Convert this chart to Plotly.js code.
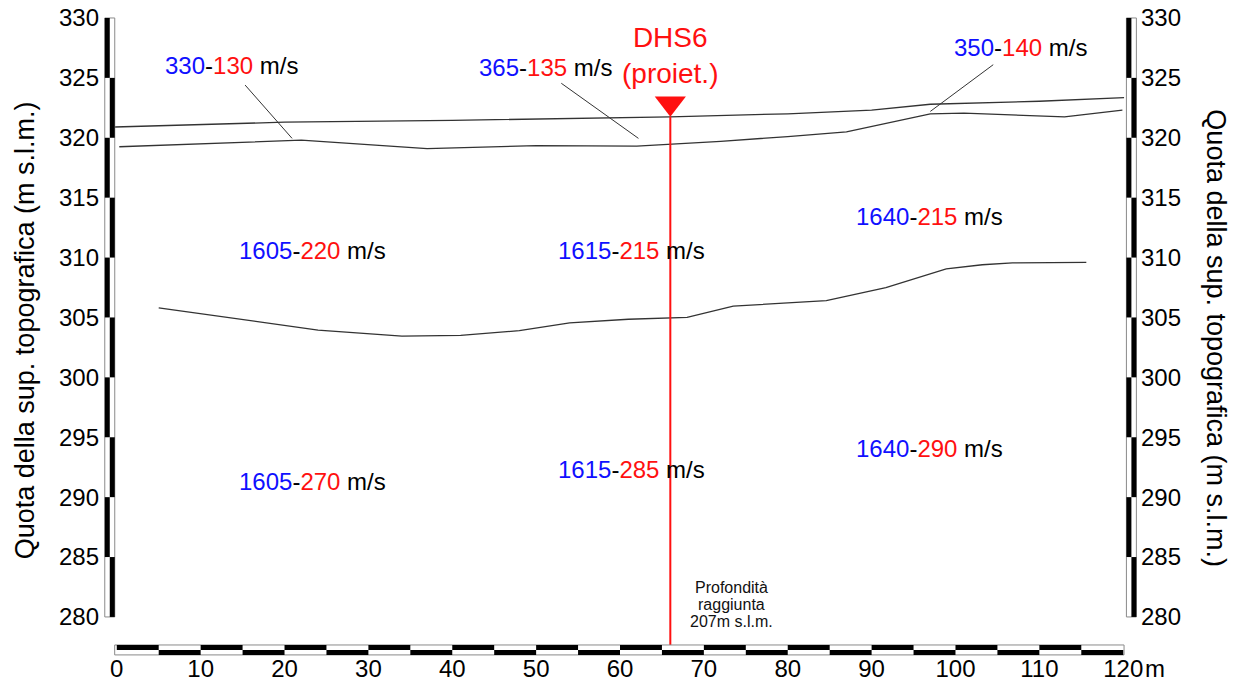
<!DOCTYPE html>
<html><head><meta charset="utf-8">
<script src="https://cdn.plot.ly/plotly-3.0.1.min.js"></script>
<style>html,body{margin:0;padding:0;background:#fff}#chart{width:1245px;height:686px}</style>
</head><body><div id="chart"></div>
<script>
// ---- data (distance in m, elevation in m s.l.m.) ----
const topoX = [-0.25, 20, 40, 60, 66, 80, 90, 97, 110, 120.1];
const topoY = [320.9, 321.3, 321.45, 321.65, 321.75, 322.0, 322.3, 322.8, 323.05, 323.35];
const layer1X = [0.3, 10, 22, 37, 50, 62, 72, 80, 87, 97, 101, 113, 119.9];
const layer1Y = [319.25, 319.5, 319.8, 319.1, 319.35, 319.3, 319.7, 320.1, 320.5, 322.0, 322.05, 321.75, 322.3];
const layer2X = [5, 15, 24, 34, 41, 48, 54, 61, 68, 73.5, 84.6, 91.7, 98.9, 103.2, 106.8, 115.6];
const layer2Y = [305.8, 304.8, 303.95, 303.45, 303.5, 303.9, 304.55, 304.85, 305.0, 305.95, 306.4, 307.5, 309.05, 309.4, 309.55, 309.6];
const leader1X = [15.3, 20.9], leader1Y = [324.4, 319.95];
const leader2X = [53.0, 62.2], leader2Y = [324.55, 319.95];
const leader3X = [104.5, 97.0], leader3Y = [326.1, 322.2];
const vpVals = [330, 365, 350, 1605, 1615, 1640, 1605, 1615, 1640];
const vsVals = [130, 135, 140, 220, 215, 215, 270, 285, 290];
const labelX = [13.7, 51.07, 107.7, 23.36, 61.38, 96.9, 23.36, 61.38, 96.9];
const labelY = [326.0, 325.83, 327.5, 310.63, 310.55, 313.4, 291.27, 292.27, 294.1];
const boreName = 'DHS6', boreNote = '(proiet.)';
const boreX = 66, boreTop = 321.75, boreBottom = 276.83;
const depthNoteLines = ['Profondità', 'raggiunta', '207m s.l.m.'];
const depthNoteX = 73.3, depthNoteY = [282.42, 281.0, 279.58];
const xTicks = [0, 10, 20, 30, 40, 50, 60, 70, 80, 90, 100, 110, 120];
const xUnit = 'm';
const yTicks = [280, 285, 290, 295, 300, 305, 310, 315, 320, 325, 330];
const yTitle = 'Quota della sup. topografica (m s.l.m.)';

const FONT = 'Liberation Sans, Arial, sans-serif';
const BLUE = '#1010ff', RED = '#ff1010';
const lineStyle = {color: '#333', width: 1.3};

const traces = [
  {x: topoX, y: topoY, mode: 'lines', line: lineStyle, hoverinfo: 'skip'},
  {x: layer1X, y: layer1Y, mode: 'lines', line: lineStyle, hoverinfo: 'skip'},
  {x: layer2X, y: layer2Y, mode: 'lines', line: lineStyle, hoverinfo: 'skip'},
  {x: leader1X, y: leader1Y, mode: 'lines', line: {color: '#333', width: 1}, hoverinfo: 'skip'},
  {x: leader2X, y: leader2Y, mode: 'lines', line: {color: '#333', width: 1}, hoverinfo: 'skip'},
  {x: leader3X, y: leader3Y, mode: 'lines', line: {color: '#333', width: 1}, hoverinfo: 'skip'},
  {x: [boreX, boreX], y: [boreTop, boreBottom], mode: 'lines', line: {color: RED, width: 2}, hoverinfo: 'skip'},
  {x: [boreX], y: [boreTop + 1.13], mode: 'markers', marker: {symbol: 'triangle-down', size: 27, color: RED}, hoverinfo: 'skip'},
  {x: [0], y: [300], yaxis: 'y2', mode: 'markers', marker: {opacity: 0}, hoverinfo: 'skip'}
];

// scale bars
const shapes = [];
const lbar = [-1.43, -0.24], rbar = [120.38, 121.57];
const hbarY = [276.83, 277.66];
function addVBar(xr) {
  const xm = (xr[0] + xr[1]) / 2;
  const yMin = yTicks[0], yMax = yTicks[yTicks.length - 1];
  shapes.push({type: 'rect', xref: 'x', yref: 'y', x0: xr[0], x1: xr[1], y0: yMin, y1: yMax,
    fillcolor: '#fff', line: {color: '#8a8a8a', width: 1}, layer: 'above'});
  for (let i = 0; i < yTicks.length - 1; i++) {
    const top = yMax - 5 * i, bot = top - 5;
    const left = (i % 2 === 0);
    shapes.push({type: 'rect', xref: 'x', yref: 'y',
      x0: left ? xr[0] : xm, x1: left ? xm : xr[1], y0: bot, y1: top,
      fillcolor: '#000', line: {width: 0}, layer: 'above'});
  }
}
addVBar(lbar); addVBar(rbar);
(function () {
  const ym = (hbarY[0] + hbarY[1]) / 2;
  const xMin = xTicks[0], xMax = xTicks[xTicks.length - 1];
  shapes.push({type: 'rect', xref: 'x', yref: 'y', x0: xMin - 0.25, x1: xMax + 0.1, y0: hbarY[0], y1: hbarY[1],
    fillcolor: '#fff', line: {color: '#8a8a8a', width: 1}, layer: 'above'});
  for (let j = 0; j < (xMax - xMin) / 5; j++) {
    const x0 = xMin + 5 * j, x1 = x0 + 5;
    const topRow = (j % 2 === 0);
    shapes.push({type: 'rect', xref: 'x', yref: 'y', x0: x0, x1: x1,
      y0: topRow ? ym : hbarY[0], y1: topRow ? hbarY[1] : ym,
      fillcolor: '#000', line: {width: 0}, layer: 'above'});
  }
})();

const annotations = [];
for (let k = 0; k < vpVals.length; k++) {
  annotations.push({x: labelX[k], y: labelY[k], xref: 'x', yref: 'y', showarrow: false,
    text: '<span style="color:' + BLUE + '">' + vpVals[k] + '</span>-<span style="color:' + RED + '">' + vsVals[k] + '</span> m/s',
    font: {family: FONT, size: 24, color: '#000'}, xanchor: 'center', yanchor: 'middle'});
}
annotations.push({x: boreX, y: 326.9, xref: 'x', yref: 'y', showarrow: false,
  text: boreName + '<br>' + boreNote, font: {family: FONT, size: 28, color: RED}, xanchor: 'center', yanchor: 'middle'});
depthNoteLines.forEach((t, i) => annotations.push({x: depthNoteX, y: depthNoteY[i], xref: 'x', yref: 'y', showarrow: false,
  text: t, font: {family: FONT, size: 16, color: '#111'}, xanchor: 'center', yanchor: 'middle'}));
annotations.push({x: -0.0722, y: 0.501, xref: 'paper', yref: 'paper', showarrow: false, textangle: -90,
  text: yTitle, font: {family: FONT, size: 27, color: '#000'}, xanchor: 'center', yanchor: 'middle'});
annotations.push({x: 1.0735, y: 0.488, xref: 'paper', yref: 'paper', showarrow: false, textangle: 90,
  text: yTitle, font: {family: FONT, size: 27, color: '#000'}, xanchor: 'center', yanchor: 'middle'});
annotations.push({x: 1.0030, y: -0.0185, xref: 'paper', yref: 'paper', showarrow: false,
  text: xUnit, font: {family: FONT, size: 24, color: '#000'}, xanchor: 'left', yanchor: 'middle'});

const axisFont = {family: FONT, size: 24, color: '#000'};
const layout = {
  width: 1245, height: 686,
  margin: {l: 100, r: 104.6, t: 6, b: 30, pad: 0},
  paper_bgcolor: '#fff', plot_bgcolor: '#fff',
  showlegend: false,
  xaxis: {range: [-2, 122], tickvals: xTicks, ticktext: xTicks.map(String), ticks: '', showgrid: false,
    zeroline: false, showline: false, tickfont: axisFont, ticklabelstandoff: -4, fixedrange: true},
  yaxis: {range: [276.74, 331], tickvals: yTicks, ticks: '', showgrid: false, zeroline: false,
    showline: false, tickfont: axisFont, ticklabelstandoff: 0, fixedrange: true},
  yaxis2: {range: [276.74, 331], overlaying: 'y', side: 'right', anchor: 'x', tickvals: yTicks, ticks: '',
    showgrid: false, zeroline: false, showline: false, tickfont: axisFont, ticklabelstandoff: 0, fixedrange: true},
  shapes: shapes,
  annotations: annotations
};
Plotly.newPlot('chart', traces, layout, {staticPlot: true, displayModeBar: false});
</script>
</body></html>
